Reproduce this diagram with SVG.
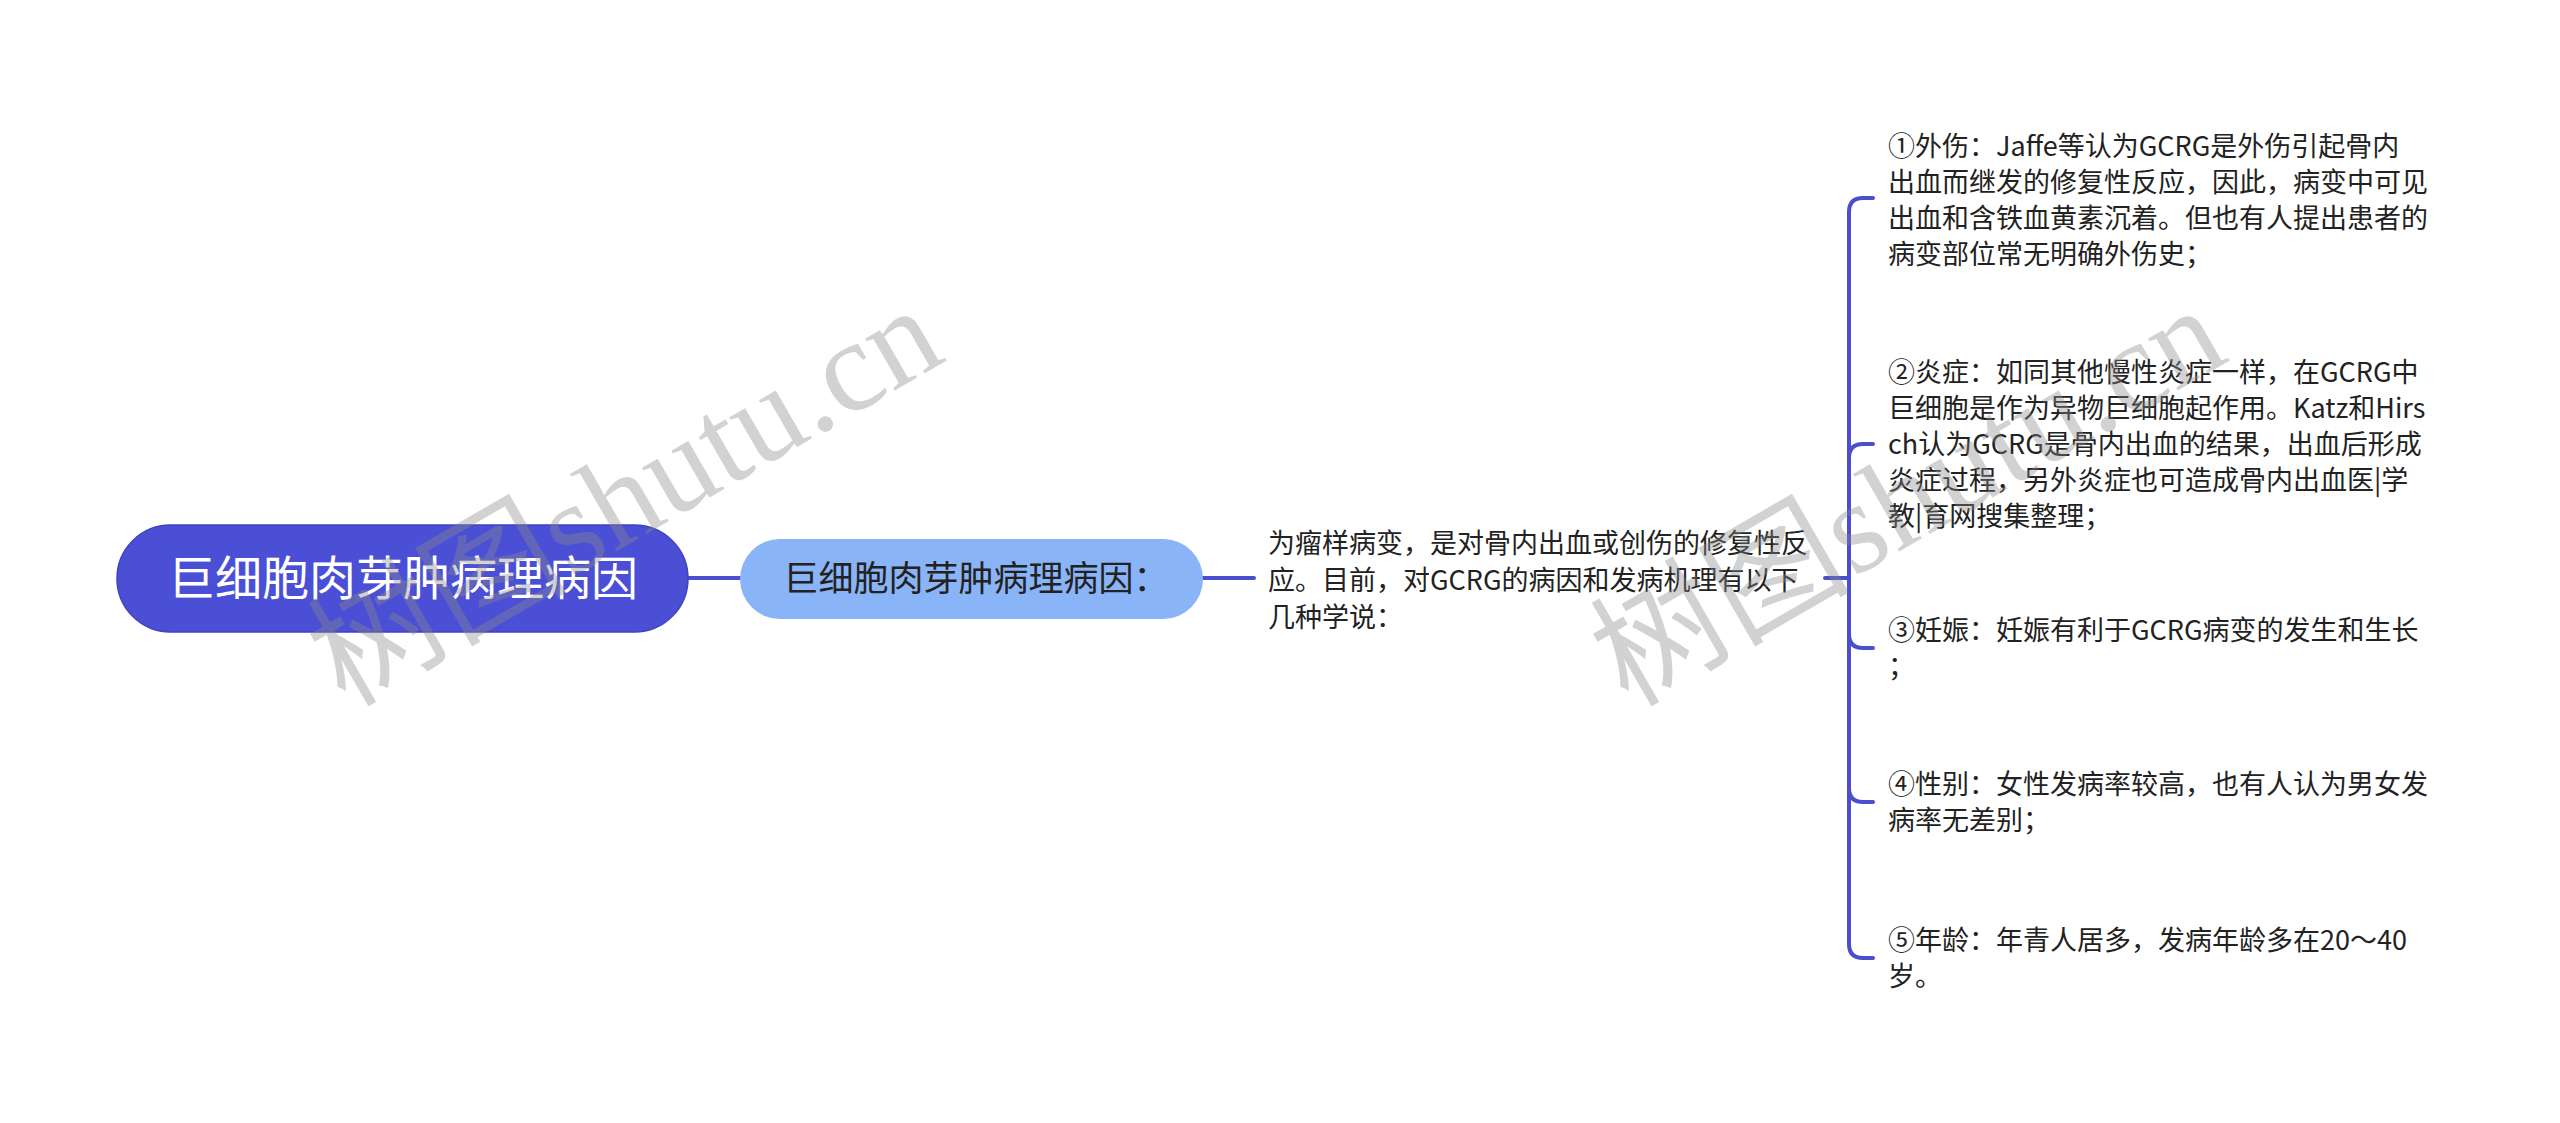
<svg xmlns="http://www.w3.org/2000/svg" width="2560" height="1123" viewBox="0 0 2560 1123">
<style>
.t{font-family:"Noto Sans CJK SC","Noto Sans",sans-serif;font-size:27px;fill:#222222}
.ln{fill:none;stroke:#4a4fd0;stroke-width:4;stroke-linecap:round;stroke-linejoin:round}
.wm{font-family:"Liberation Serif","Noto Sans CJK SC",serif;font-size:130px;fill:#8a8a8a;opacity:0.38}
</style>
<rect width="2560" height="1123" fill="#ffffff"/>
<g id="connectors">
<path class="ln" d="M688,578 H740"/>
<path class="ln" d="M1203,578 H1254"/>
<path class="ln" d="M1825,578 H1849"/>
<path class="ln" d="M1849,578 V212 Q1849,198 1863,198 H1873"/>
<path class="ln" d="M1849,578 V458 Q1849,444 1863,444 H1873"/>
<path class="ln" d="M1849,578 V634 Q1849,648 1863,648 H1873"/>
<path class="ln" d="M1849,578 V788 Q1849,802 1863,802 H1873"/>
<path class="ln" d="M1849,578 V944 Q1849,958 1863,958 H1873"/>
</g>
<g id="root">
<rect x="117" y="525" width="571" height="107" rx="53.5" fill="#4a4fd6" stroke="#3f43c0" stroke-width="1.5"/>
<text x="403" y="595" text-anchor="middle" style="font-family:'Noto Sans CJK SC',sans-serif;font-size:47px;fill:#ffffff">巨细胞肉芽肿病理病因</text>
</g>
<g id="n1">
<rect x="740" y="539" width="463" height="80" rx="40" fill="#8ab4f8"/>
<text x="976" y="591" text-anchor="middle" style="font-family:'Noto Sans CJK SC',sans-serif;font-size:35px;fill:#222222">巨细胞肉芽肿病理病因：</text>
</g>
<g id="n2">
<text class="t" x="1268"><tspan x="1268" y="553">为瘤样病变，是对骨内出血或创伤的修复性反</tspan><tspan x="1268" y="590">应。目前，对GCRG的病因和发病机理有以下</tspan><tspan x="1268" y="627">几种学说：</tspan></text>
</g>
<g id="b1">
<text class="t"><tspan x="1888" y="156">①外伤：Jaffe等认为GCRG是外伤引起骨内</tspan><tspan x="1888" y="192">出血而继发的修复性反应，因此，病变中可见</tspan><tspan x="1888" y="228">出血和含铁血黄素沉着。但也有人提出患者的</tspan><tspan x="1888" y="264">病变部位常无明确外伤史；</tspan></text>
</g>
<g id="b2">
<text class="t"><tspan x="1888" y="382">②炎症：如同其他慢性炎症一样，在GCRG中</tspan><tspan x="1888" y="418">巨细胞是作为异物巨细胞起作用。Katz和Hirs</tspan><tspan x="1888" y="454">ch认为GCRG是骨内出血的结果，出血后形成</tspan><tspan x="1888" y="490">炎症过程，另外炎症也可造成骨内出血医|学</tspan><tspan x="1888" y="526">教|育网搜集整理；</tspan></text>
</g>
<g id="b3">
<text class="t"><tspan x="1888" y="640">③妊娠：妊娠有利于GCRG病变的发生和生长</tspan><tspan x="1888" y="676">；</tspan></text>
</g>
<g id="b4">
<text class="t"><tspan x="1888" y="794">④性别：女性发病率较高，也有人认为男女发</tspan><tspan x="1888" y="830">病率无差别；</tspan></text>
</g>
<g id="b5">
<text class="t"><tspan x="1888" y="950">⑤年龄：年青人居多，发病年龄多在20～40</tspan><tspan x="1888" y="986">岁。</tspan></text>
</g>
<g id="watermark">
<text class="wm" transform="translate(345,708) rotate(-30)">树图shutu.cn</text>
<text class="wm" transform="translate(1628,708) rotate(-30)">树图shutu.cn</text>
</g>
</svg>
